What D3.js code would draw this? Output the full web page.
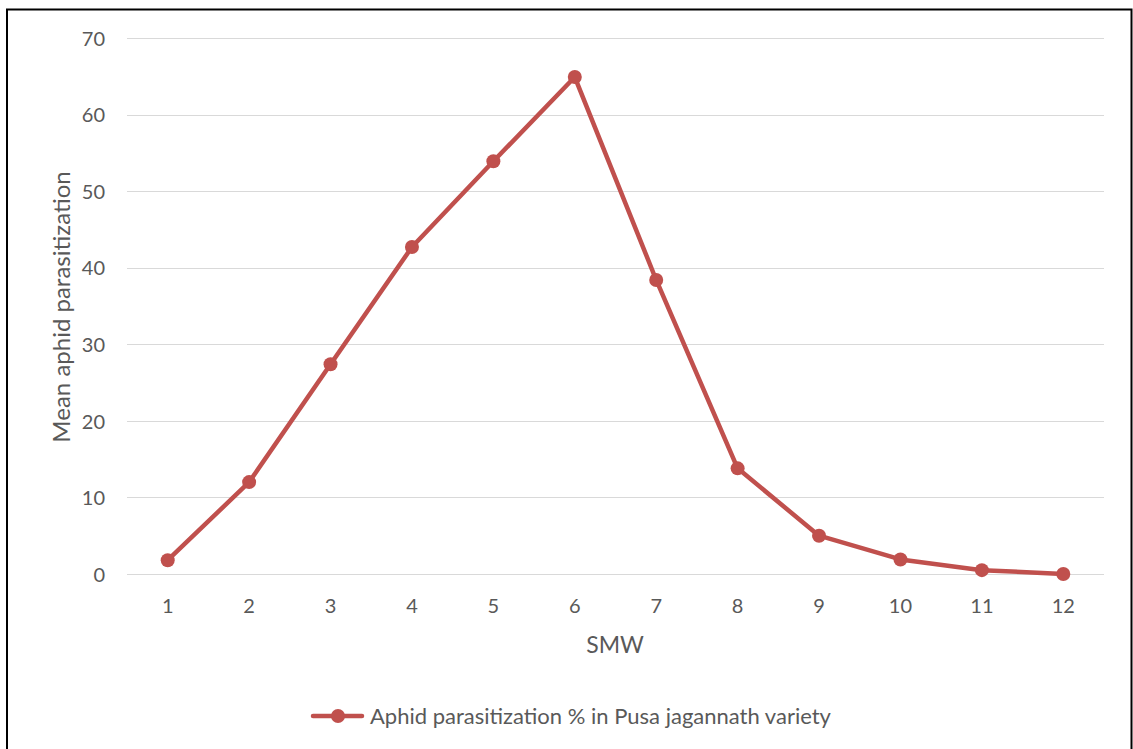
<!DOCTYPE html>
<html>
<head>
<meta charset="utf-8">
<script src="https://cdn.jsdelivr.net/npm/d3@7"></script>
<style>
  html, body { margin: 0; padding: 0; background: #fff; }
  svg { display: block; }
  text { font-family: Lato, "Open Sans", sans-serif; fill: #595959; }
</style>
</head>
<body>
<script>
// Standard meteorological weeks and mean parasitization (%)
const weeks = ["1", "2", "3", "4", "5", "6", "7", "8", "9", "10", "11", "12"];
const parasitization = [1.8, 12.0, 27.4, 42.7, 53.9, 64.9, 38.4, 13.8, 5.0, 1.9, 0.5, 0.0];
const yTicks = [0, 10, 20, 30, 40, 50, 60, 70];
const seriesName = "Aphid parasitization % in Pusa jagannath variety";
const xTitle = "SMW";
const yTitle = "Mean aphid parasitization";

const W = 1133, H = 749;
const plot = { left: 127, right: 1104, top: 38, bottom: 574 };
const lineColor = "#C0504D";
const font = "Lato, 'Open Sans', sans-serif";

const svg = d3.select("body").append("svg").attr("width", W).attr("height", H);

// outer frame
svg.append("rect")
  .attr("x", 7).attr("y", 9.5)
  .attr("width", 1124.5).attr("height", 760)
  .attr("fill", "none").attr("stroke", "#000").attr("stroke-width", 2);

const x = d3.scaleBand().domain(weeks).range([plot.left, plot.right]);
const y = d3.scaleLinear().domain([0, 70]).range([plot.bottom, plot.top]);

// horizontal gridlines
svg.append("g").selectAll("line").data(yTicks).join("line")
  .attr("x1", plot.left).attr("x2", plot.right)
  .attr("y1", d => Math.round(y(d)) + 0.5).attr("y2", d => Math.round(y(d)) + 0.5)
  .attr("stroke", "#D9D9D9").attr("stroke-width", 1);

// y axis labels
const yAxis = d3.axisLeft(y).tickValues(yTicks).tickSize(0).tickPadding(0);
const gy = svg.append("g").attr("transform", `translate(${plot.left - 22},0)`).call(yAxis);
gy.select(".domain").remove();
gy.selectAll("text").style("font-size", "20px").attr("fill", "#595959")
  .style("font-family", font).attr("dy", "0.36em");

// x axis labels
const xAxis = d3.axisBottom(x).tickSize(0).tickPadding(0);
const gx = svg.append("g").attr("transform", `translate(0,${plot.bottom})`).call(xAxis);
gx.select(".domain").remove();
gx.selectAll("text").style("font-size", "20px").attr("fill", "#595959")
  .style("font-family", font).attr("y", 39).attr("dy", null);

// axis titles
svg.append("text")
  .attr("x", 615).attr("y", 653)
  .attr("text-anchor", "middle").style("font-size", "23px")
  .text(xTitle);

svg.append("text")
  .attr("transform", `translate(70,${(167 + 447) / 2}) rotate(-90)`)
  .attr("text-anchor", "middle").style("font-size", "24px")
  .text(yTitle);

// series line
const cx = (d, i) => x(weeks[i]) + x.bandwidth() / 2;
const line = d3.line().x((d, i) => cx(d, i)).y(d => y(d));

svg.append("path")
  .datum(parasitization)
  .attr("d", line)
  .attr("fill", "none")
  .attr("stroke", lineColor)
  .attr("stroke-width", 4.5)
  .attr("stroke-linejoin", "round")
  .attr("stroke-linecap", "round");

svg.append("g").selectAll("circle").data(parasitization).join("circle")
  .attr("cx", (d, i) => cx(d, i))
  .attr("cy", d => y(d))
  .attr("r", 7)
  .attr("fill", lineColor);

// legend
const lg = svg.append("g").attr("transform", "translate(0,716)");
lg.append("line")
  .attr("x1", 313).attr("x2", 362).attr("y1", 0).attr("y2", 0)
  .attr("stroke", lineColor).attr("stroke-width", 4.5).attr("stroke-linecap", "round");
lg.append("circle").attr("cx", 338).attr("cy", 0).attr("r", 7).attr("fill", lineColor);
lg.append("text")
  .attr("x", 370).attr("y", 0).attr("dy", "0.36em")
  .style("font-size", "22px")
  .text(seriesName);
</script>
</body>
</html>
